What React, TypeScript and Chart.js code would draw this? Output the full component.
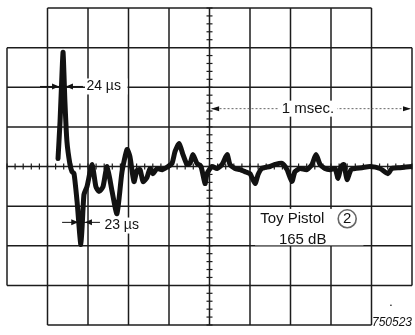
import React, { useEffect, useRef } from "react";
import { Chart, registerables } from "chart.js";

Chart.register(...registerables);

// Time axis in microseconds (200 µs per division), amplitude in divisions
const timeUs = [
  252, 262, 272, 277, 286, 296, 311, 321, 331, 346, 365, 380, 395, 420, 439, 454, 474, 494,
  519, 543, 568, 593, 607, 627, 642, 657, 672, 691, 706, 721, 741, 766, 795, 815, 830, 850, 869,
  889, 904, 918, 938, 958, 978, 988, 1012, 1037, 1062, 1087, 1101, 1126, 1151, 1175, 1200,
  1225, 1240, 1259, 1299, 1323, 1358, 1383, 1407, 1422, 1447, 1481, 1506, 1526, 1546, 1570,
  1595, 1620, 1635, 1650, 1664, 1679, 1699, 1718, 1753, 1793, 1842, 1881, 1901, 1941, 2000,
];
const amplitude = [
  0.2, 1.14, 2.4, 2.88, 1.64, 0.63, 0.05, -0.13, -0.18, -0.88, -1.97, -0.71, -0.51, 0.05, -0.51,
  -0.63, -0.51, 0.0, -0.63, -1.19, -0.13, 0.43, 0.25, -0.38, -0.1, -0.08, -0.38, -0.28, -0.05, -0.18,
  -0.05, -0.08, 0.0, 0.08, 0.38, 0.58, 0.3, 0.05, 0.08, 0.3, 0.08, 0.0, -0.43, -0.18, 0.0, -0.05,
  0.05, 0.3, 0.05, -0.05, -0.08, -0.13, -0.18, -0.43, -0.2, -0.05, 0.0, 0.05, 0.08, -0.08, -0.38,
  -0.13, -0.05, -0.08, 0.05, 0.3, 0.05, -0.05, -0.08, -0.05, -0.3, 0.0, 0.05, -0.33, -0.08, -0.05,
  -0.03, 0.0, -0.05, -0.18, -0.05, -0.03, 0.0,
];

// Graticule: 10 x 8 divisions
const xGridUs = [0, 200, 400, 600, 800, 1000, 1200, 1400, 1600, 1800, 2000];
const yGridDiv = [-4, -3, -2, -1, 0, 1, 2, 3, 4];

const pulseWidthLabel = "24 µs";
const dipWidthLabel = "23 µs";
const spanLabel = "1 msec.";
const titleLine1 = "Toy Pistol";
const titleCircled = "2";
const titleLine2 = "165 dB";
const figureId = "750523";

const INK = "#121212";
const FONT = "'Liberation Sans', Arial, Helvetica, sans-serif";

function arrowHead(ctx: CanvasRenderingContext2D, tipX: number, y: number, dir: number, len: number, half: number) {
  ctx.beginPath();
  ctx.moveTo(tipX, y);
  ctx.lineTo(tipX - dir * len, y - half);
  ctx.lineTo(tipX - dir * len, y + half);
  ctx.closePath();
  ctx.fill();
}

const graticulePlugin = {
  id: "graticule",
  beforeDatasetsDraw(chart: any) {
    const { ctx } = chart;
    const xs = chart.scales.x;
    const ys = chart.scales.y;
    const px = (v: number) => xs.getPixelForValue(v);
    const py = (v: number) => ys.getPixelForValue(v);
    ctx.save();
    ctx.strokeStyle = "#1c1c1c";
    ctx.lineWidth = 1.5;
    ctx.lineCap = "butt";
    xGridUs.forEach((v) => {
      const edge = v === xGridUs[0] || v === xGridUs[xGridUs.length - 1];
      const y0 = edge ? -3 : -4;
      const y1 = edge ? 3 : 4;
      ctx.beginPath();
      ctx.moveTo(px(v), py(y1));
      ctx.lineTo(px(v), py(y0));
      ctx.stroke();
    });
    yGridDiv.forEach((v) => {
      const edge = v === yGridDiv[0] || v === yGridDiv[yGridDiv.length - 1];
      const x0 = edge ? 200 : 0;
      const x1 = edge ? 1800 : 2000;
      ctx.beginPath();
      ctx.moveTo(px(x0), py(v));
      ctx.lineTo(px(x1), py(v));
      ctx.stroke();
    });
    ctx.lineWidth = 1.2;
    for (let t = 0; t <= 2000; t += 40) {
      ctx.beginPath();
      ctx.moveTo(px(t), py(0) - 3);
      ctx.lineTo(px(t), py(0) + 3);
      ctx.stroke();
    }
    for (let d = -4; d <= 4.001; d += 0.2) {
      ctx.beginPath();
      ctx.moveTo(px(1000) - 3, py(d));
      ctx.lineTo(px(1000) + 3, py(d));
      ctx.stroke();
    }
    ctx.restore();
  },
  afterDatasetsDraw(chart: any) {
    const { ctx } = chart;
    const xs = chart.scales.x;
    const ys = chart.scales.y;
    const px = (v: number) => xs.getPixelForValue(v);
    const py = (v: number) => ys.getPixelForValue(v);
    ctx.save();
    ctx.fillStyle = INK;
    ctx.strokeStyle = INK;
    ctx.textBaseline = "middle";

    // 24 µs marker
    {
      const y = py(2.02);
      ctx.fillStyle = "#fff";
      ctx.fillRect(px(385), y - 8, px(595) - px(385), 16);
      ctx.fillStyle = INK;
      ctx.lineWidth = 1;
      ctx.beginPath();
      ctx.moveTo(px(163), y);
      ctx.lineTo(px(375), y);
      ctx.stroke();
      arrowHead(ctx, px(257), y, 1, 7, 3);
      arrowHead(ctx, px(291), y, -1, 7, 3);
      ctx.font = `14px ${FONT}`;
      ctx.textAlign = "left";
      ctx.fillText(pulseWidthLabel, px(392), y);
    }

    // 23 µs marker
    {
      const y = py(-1.41);
      const ty = py(-1.49);
      ctx.fillStyle = "#fff";
      ctx.fillRect(px(470), ty - 8, px(655) - px(470), 16);
      ctx.fillStyle = INK;
      ctx.lineWidth = 1;
      ctx.beginPath();
      ctx.moveTo(px(272), y);
      ctx.lineTo(px(459), y);
      ctx.stroke();
      arrowHead(ctx, px(352), y, 1, 7, 3);
      arrowHead(ctx, px(385), y, -1, 7, 3);
      ctx.font = `14px ${FONT}`;
      ctx.textAlign = "left";
      ctx.fillText(dipWidthLabel, px(481), ty);
    }

    // 1 msec span
    {
      const y = py(1.46);
      ctx.strokeStyle = "#666";
      ctx.lineWidth = 1;
      ctx.setLineDash([2, 2]);
      ctx.beginPath();
      ctx.moveTo(px(1010), y);
      ctx.lineTo(px(1990), y);
      ctx.stroke();
      ctx.setLineDash([]);
      ctx.fillStyle = INK;
      arrowHead(ctx, px(1008), y, -1, 8, 2.5);
      arrowHead(ctx, px(1995), y, 1, 8, 2.5);
      ctx.font = `15px ${FONT}`;
      ctx.textAlign = "center";
      const w = ctx.measureText(spanLabel).width;
      const cx = px(1486);
      ctx.fillStyle = "#fff";
      ctx.fillRect(cx - w / 2 - 3, y - 8, w + 6, 16);
      ctx.fillStyle = INK;
      ctx.fillText(spanLabel, cx, y + 0.5);
    }

    // Toy Pistol block
    {
      const x0 = px(1225);
      const x1 = px(1760);
      ctx.fillStyle = "#fff";
      ctx.fillRect(x0, py(-1.07), x1 - x0, py(-1.99) - py(-1.07));
      ctx.fillStyle = INK;
      ctx.font = `15px ${FONT}`;
      ctx.textAlign = "left";
      const y1 = py(-1.32);
      ctx.fillText(titleLine1, px(1250), y1);
      const cx = px(1680);
      ctx.lineWidth = 1.6;
      ctx.beginPath();
      ctx.arc(cx, y1, 9, 0, Math.PI * 2);
      ctx.stroke();
      ctx.textAlign = "center";
      ctx.font = `15px ${FONT}`;
      ctx.fillText(titleCircled, cx, y1 + 0.5);
      ctx.fillText(titleLine2, px(1460), py(-1.85));
    }

    // figure number
    {
      ctx.font = `italic 12px ${FONT}`;
      ctx.textAlign = "right";
      ctx.fillText(figureId, px(2000), py(-3.94));
      ctx.beginPath();
      ctx.arc(px(1896), py(-3.5), 0.8, 0, Math.PI * 2);
      ctx.fill();
    }
    ctx.restore();
  },
};

export default function App() {
  const ref = useRef<HTMLCanvasElement | null>(null);
  useEffect(() => {
    if (!ref.current) return;
    const chart = new Chart(ref.current, {
      type: "line",
      data: {
        datasets: [
          {
            data: timeUs.map((t, i) => ({ x: t, y: amplitude[i] })),
            borderColor: INK,
            borderWidth: 5,
            pointRadius: 0,
            tension: 0.2,
            borderJoinStyle: "round",
            borderCapStyle: "round",
            fill: false,
          },
        ],
      },
      options: {
        animation: false,
        responsive: false,
        layout: { padding: { left: 7, top: 8, right: 3, bottom: 10 } },
        plugins: { legend: { display: false }, tooltip: { enabled: false } },
        scales: {
          x: { type: "linear", min: 0, max: 2000, display: false },
          y: { type: "linear", min: -4, max: 4, display: false },
        },
      },
      plugins: [graticulePlugin],
    });
    return () => chart.destroy();
  }, []);
  return (
    <div style={{ position: "absolute", left: 0, top: 0, width: 415, height: 335, background: "#fff" }}>
      <canvas ref={ref} width={415} height={335} />
    </div>
  );
}
